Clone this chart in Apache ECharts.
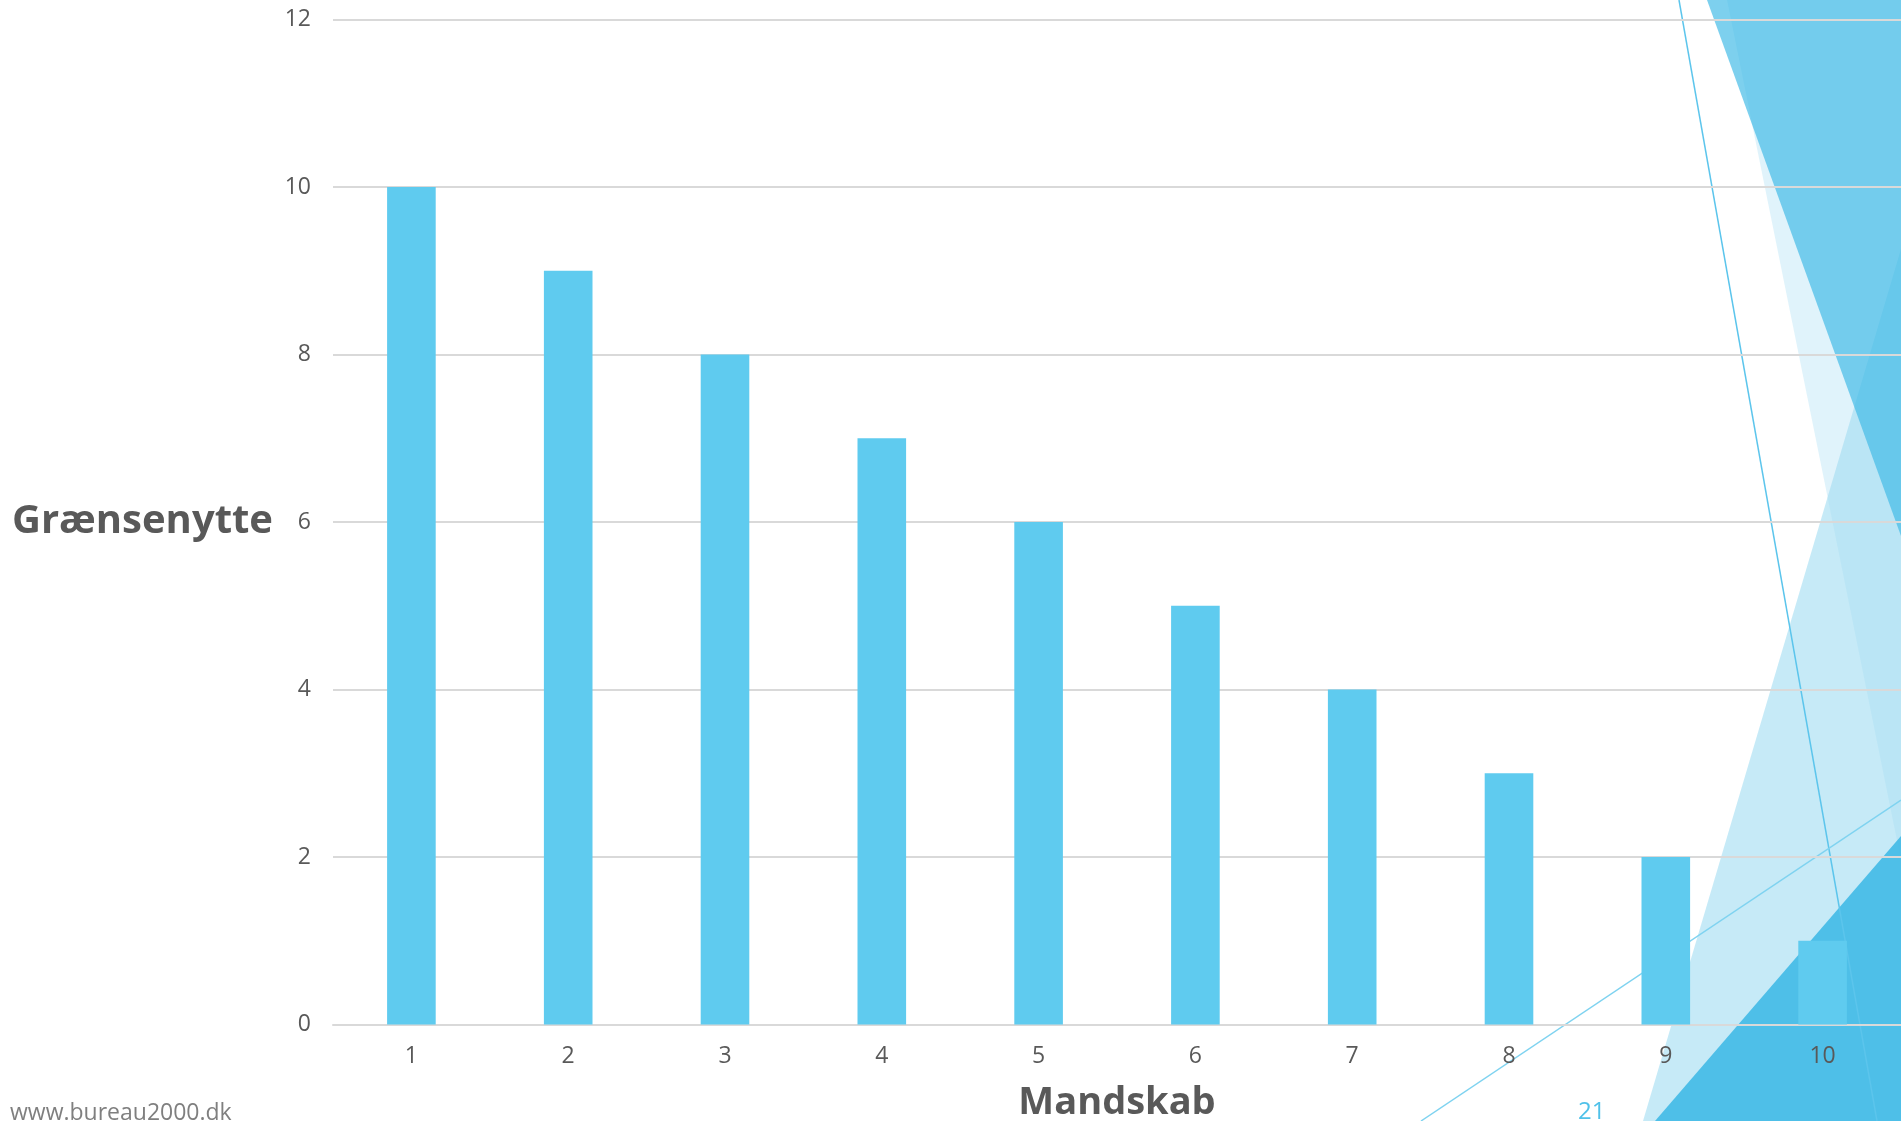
<!DOCTYPE html>
<html>
<head>
<meta charset="utf-8">
<script src="https://cdn.jsdelivr.net/npm/echarts@6/dist/echarts.min.js"></script>
<style>
html,body{margin:0;padding:0;background:#fff;}
#chart{width:1901px;height:1121px;}
</style>
</head>
<body>
<div id="chart"></div>
<script>
const categories = ['1','2','3','4','5','6','7','8','9','10'];
const values = [10, 9, 8, 7, 6, 5, 4, 3, 2, 1];
const yAxisTitle = 'Grænsenytte';
const xAxisTitle = 'Mandskab';
const footerText = 'www.bureau2000.dk';
const pageNumber = '21';

const FONT = '"Open Sans", "Noto Sans", sans-serif';
const chart = echarts.init(document.getElementById('chart'), null, {renderer: 'canvas'});

const deco = [
  {type: 'polygon', z: -10, shape: {points: [[1643,1121],[1901,249],[1901,1121]]}, style: {fill: 'rgba(120,205,237,0.42)'}},
  {type: 'polygon', z: -9, shape: {points: [[1727,0],[1901,0],[1901,860]]}, style: {fill: 'rgba(160,220,243,0.33)'}},
  {type: 'polygon', z: -8, shape: {points: [[1707,0],[1901,0],[1901,536]]}, style: {fill: 'rgba(64,186,230,0.68)'}},
  {type: 'polygon', z: -7, shape: {points: [[1655,1121],[1901,836],[1901,1121]]}, style: {fill: 'rgba(62,184,230,0.88)'}},
  {type: 'line', z: -6, shape: {x1: 1679, y1: 0, x2: 1877, y2: 1121}, style: {stroke: '#5cc5ec', lineWidth: 1.5}},
  {type: 'line', z: -6, shape: {x1: 1421, y1: 1121, x2: 1901, y2: 800}, style: {stroke: '#7fd3f0', lineWidth: 1.5}}
];

chart.setOption({
  backgroundColor: '#ffffff',
  animation: false,
  grid: {left: 333, right: 0, top: 19.5, bottom: 96.5, containLabel: false, outerBoundsMode: 'none'},
  xAxis: {
    type: 'category',
    data: categories,
    axisLine: {show: true, lineStyle: {color: '#d9d9d9', width: 2}},
    axisTick: {show: false},
    axisLabel: {color: '#595959', fontSize: 23, fontFamily: FONT, margin: 20},
    name: xAxisTitle,
    nameLocation: 'middle',
    nameGap: 60,
    nameTextStyle: {color: '#595959', fontSize: 38, fontWeight: 'bold', fontFamily: FONT}
  },
  yAxis: {
    type: 'value',
    min: 0, max: 12, interval: 2,
    axisLine: {show: false},
    axisTick: {show: false},
    splitLine: {lineStyle: {color: '#d9d9d9', width: 2}},
    axisLabel: {color: '#595959', fontSize: 23, fontFamily: FONT, margin: 22},
    name: yAxisTitle,
    nameLocation: 'middle',
    nameRotate: 0,
    nameGap: 60,
    nameTextStyle: {color: '#595959', fontSize: 40, fontWeight: 'bold', fontFamily: FONT, align: 'right', verticalAlign: 'middle'}
  },
  series: [{
    type: 'bar',
    data: values,
    barWidth: '31%',
    itemStyle: {color: '#5fcbef'}
  }],
  graphic: deco.concat([
    {type: 'text', left: 10, top: 1102, style: {text: footerText, fill: '#7f7f7f', font: '23px ' + FONT}},
    {type: 'text', left: 1578, top: 1100, style: {text: pageNumber, fill: '#4fc1e9', font: '24px ' + FONT}}
  ])
});
</script>
</body>
</html>
